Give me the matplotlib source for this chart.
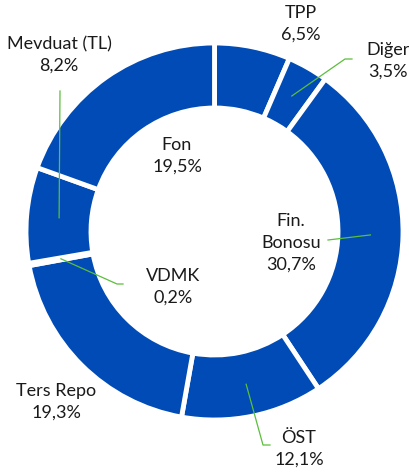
import numpy as np
import matplotlib
matplotlib.use("Agg")
import matplotlib.pyplot as plt

labels = ["TPP", "Diğer", "Fin.\nBonosu", "ÖST", "Ters Repo", "VDMK", "Mevduat (TL)", "Fon"]
shares = [6.5, 3.5, 30.7, 12.1, 19.3, 0.2, 8.2, 19.5]

W, H = 410, 477
blue = "#004bb5"
green = "#5bbe3c"

# label centres (pixels from top-left) and leader bend points, set by hand
label_pos = {
    "TPP": (301, 24),
    "Diğer": (388, 61),
    "Fin.\nBonosu": (291, 243),
    "ÖST": (299, 449),
    "Ters Repo": (56, 402),
    "VDMK": (173, 287),
    "Mevduat (TL)": (59, 55),
    "Fon": (177, 156),
}
leaders = {
    "Diğer": [(345, 60), (352, 60)],
    "Fin.\nBonosu": [(328, 241)],
    "ÖST": [(263, 446), (270, 446)],
    "VDMK": [(117, 285), (123, 285)],
    "Mevduat (TL)": [(60, 92)],
}

cx, cy, r_out, r_in = 214.5, 232.5, 188.5, 123.5

fig = plt.figure(figsize=(W / 100, H / 100), dpi=100)
ax = fig.add_axes([0, 0, 1, 1])

wedges, _ = ax.pie(shares, startangle=90, counterclock=False, center=(cx, H - cy),
                   radius=r_out, colors=[blue] * len(shares),
                   wedgeprops=dict(width=r_out - r_in, edgecolor="white", linewidth=3.5))
# pie resets the limits, so set them afterwards
ax.set_xlim(0, W)
ax.set_ylim(0, H)
ax.set_aspect("equal")
ax.axis("off")

r_mid = (r_out + r_in) / 2
for w, lab, val in zip(wedges, labels, shares):
    tx, ty = label_pos[lab]
    ax.text(tx, H - ty, "%s\n%s%%" % (lab, str(val).replace(".", ",")),
            ha="center", va="center", fontsize=13, color="#1a1a1a",
            linespacing=1.45, family=["Lato", "DejaVu Sans"])
    if lab in leaders:
        a = np.deg2rad((w.theta1 + w.theta2) / 2)
        pts = [(cx + r_mid * np.cos(a), (H - cy) + r_mid * np.sin(a))]
        pts += [(px, H - py) for px, py in leaders[lab]]
        xs, ys = zip(*pts)
        ax.plot(xs, ys, color=green, lw=0.9)

fig.savefig("out.png", dpi=100)
